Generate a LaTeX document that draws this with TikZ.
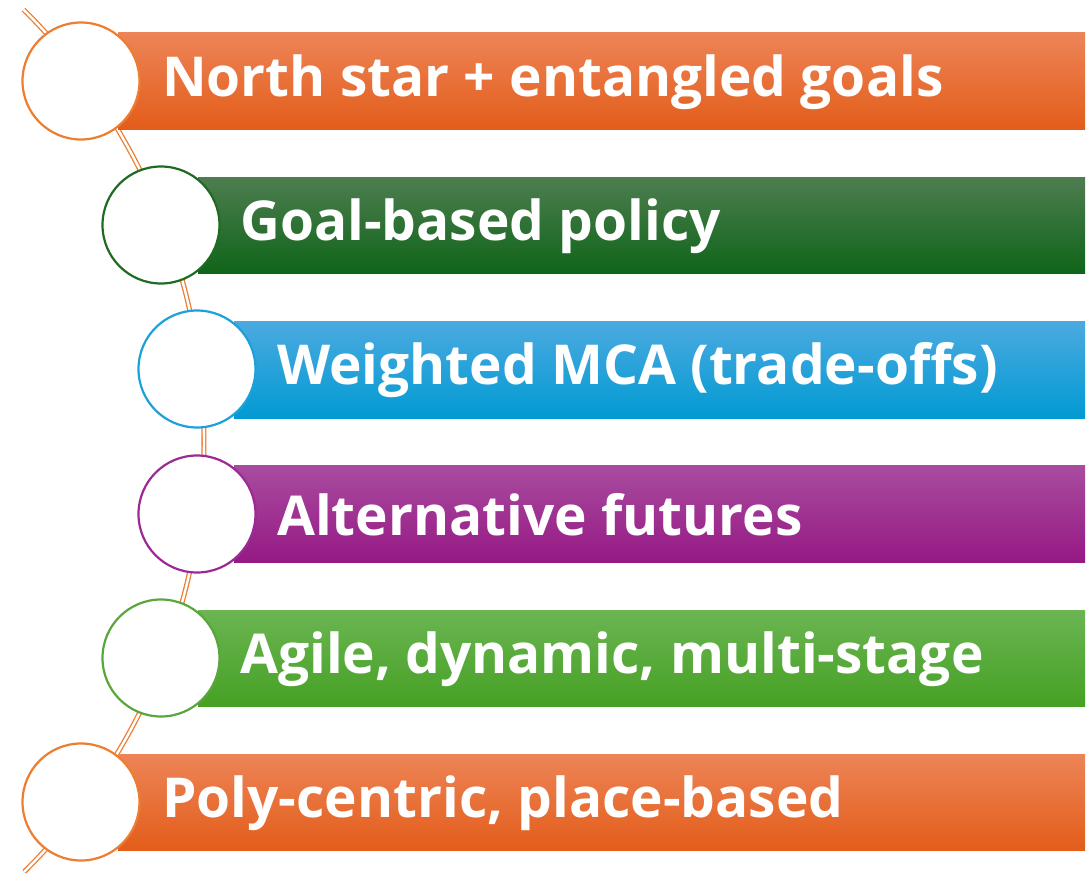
\documentclass[tikz,border=0pt]{standalone}
\usepackage{fontspec}
\setmainfont{Open Sans}
\usetikzlibrary{positioning}

\definecolor{orgtop}{HTML}{ED8457}
\definecolor{orgmid}{HTML}{F06F26}
\definecolor{orgbot}{HTML}{E35D1A}
\definecolor{orgline}{HTML}{ED7D31}
\definecolor{dgrtop}{HTML}{4E7D50}
\definecolor{dgrmid}{HTML}{146C1D}
\definecolor{dgrbot}{HTML}{0F6519}
\definecolor{dgrline}{HTML}{1F6B22}
\definecolor{blutop}{HTML}{4BAAE0}
\definecolor{blumid}{HTML}{0FA0DA}
\definecolor{blubot}{HTML}{029AD3}
\definecolor{bluline}{HTML}{1DA1DB}
\definecolor{purtop}{HTML}{A84C9F}
\definecolor{purmid}{HTML}{A0208F}
\definecolor{purbot}{HTML}{961985}
\definecolor{purline}{HTML}{9C2A94}
\definecolor{lgrtop}{HTML}{6BB553}
\definecolor{lgrmid}{HTML}{4CA82A}
\definecolor{lgrbot}{HTML}{46A124}
\definecolor{lgrline}{HTML}{5BA63B}

\tikzset{
  ring/.style={circle, draw=#1, line width=2.2pt, fill=white, minimum size=117pt, inner sep=0pt},
  label/.style={anchor=west, text=white, inner sep=0pt, font=\fontsize{55}{60}\selectfont\bfseries},
  rail/.style={double=white, draw=orgline, line width=1.3pt, double distance=2.4pt}
}

\begin{document}
\begin{tikzpicture}[x=1pt,y=-1pt]
\useasboundingbox (0,0) rectangle (1090,875);

% rail behind the rings
\coordinate (ctr) at (-402,441);
\draw[rail] (ctr) ++(-45.4:606) arc[start angle=-45.4, end angle=45.3, radius=606];

% bars
\shade[top color=orgtop, middle color=orgmid, bottom color=orgbot] (118,33) rectangle (1085,129);
\shade[top color=dgrtop, middle color=dgrmid, bottom color=dgrbot] (198,177) rectangle (1085,273);
\shade[top color=blutop, middle color=blumid, bottom color=blubot] (234,321) rectangle (1085,418);
\shade[top color=purtop, middle color=purmid, bottom color=purbot] (234,465) rectangle (1085,562);
\shade[top color=lgrtop, middle color=lgrmid, bottom color=lgrbot] (198,610) rectangle (1085,706);
\shade[top color=orgtop, middle color=orgmid, bottom color=orgbot] (118,754) rectangle (1085,850);

% rings
\node (c1) [ring=orgline] at (81,81) {};
\node (c2) [ring=dgrline] at (161,225) {};
\node (c3) [ring=bluline] at (197,369) {};
\node (c4) [ring=purline] at (197,514) {};
\node (c5) [ring=lgrline] at (161,658) {};
\node (c6) [ring=orgline] at (81,802) {};

% texts
\node (t1) [label] at (162,82) {North star + entangled goals};
\node (t2) [label] at (240,226) {Goal-based policy};
\node (t3) [label] at (277,370) {Weighted MCA (trade-offs)};
\node (t4) [label] at (277,515) {Alternative futures};
\node (t5) [label] at (240,659) {Agile, dynamic, multi-stage};
\node (t6) [label] at (162,803) {Poly-centric, place-based};
\end{tikzpicture}
\end{document}
